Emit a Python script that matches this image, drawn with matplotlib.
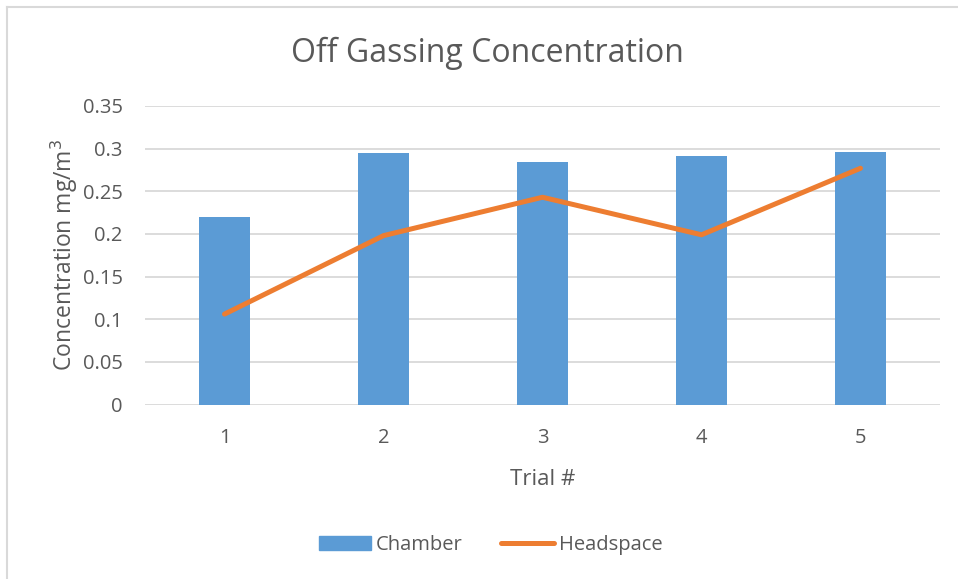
import matplotlib
matplotlib.use('Agg')
from matplotlib import pyplot as plt
from matplotlib.lines import Line2D
import numpy as np

trials = ['1', '2', '3', '4', '5']
chamber = [0.220, 0.2945, 0.284, 0.291, 0.2955]
headspace = [0.106, 0.198, 0.243, 0.199, 0.277]
yticks = [0, 0.05, 0.1, 0.15, 0.2, 0.25, 0.3, 0.35]

plt.rcParams['font.family'] = ['Open Sans', 'DejaVu Sans']
grey = '#595959'

fig = plt.figure(figsize=(9.58, 5.79), dpi=100)
ax = fig.add_axes([145 / 958, 1 - 404.5 / 579, 795 / 958, 298.5 / 579])

x = np.arange(1, len(trials) + 1)
ax.bar(x, chamber, width=0.315, color='#5B9BD5', zorder=2, label='Chamber')
ax.plot(x, headspace, color='#ED7D31', lw=3.6, solid_capstyle='round',
        solid_joinstyle='round', zorder=3, label='Headspace')

ax.set_xlim(0.5, 5.5)
ax.set_ylim(0, 0.35)
ax.set_xticks(x)
ax.set_xticklabels(trials)
ax.set_yticks(yticks)
ax.set_yticklabels(['0', '0.05', '0.1', '0.15', '0.2', '0.25', '0.3', '0.35'])
ax.yaxis.grid(True, color='#d9d9d9', lw=1.3, zorder=0)
ax.set_axisbelow(True)
for s in ax.spines.values():
    s.set_visible(False)
ax.tick_params(length=0, labelsize=14.5, colors=grey)
ax.tick_params(axis='y', pad=16)
ax.tick_params(axis='x', pad=17)

ax.set_xlabel('Trial #', fontsize=16, color=grey, labelpad=15)
ax.set_ylabel('Concentration mg/m$^3$', fontsize=16.5, color=grey, labelpad=2)
fig.text(487 / 958, 1 - 53 / 579, 'Off Gassing Concentration', ha='center', va='center',
         fontsize=23, color=grey)

handles = [
    plt.Rectangle((0, 0), 1, 1, color='#5B9BD5'),
    Line2D([0], [0], color='#ED7D31', lw=3.6, solid_capstyle='round'),
]
fig.legend(handles, ['Chamber', 'Headspace'], loc='center', ncol=2,
           bbox_to_anchor=(0.512, 1 - 545 / 579), frameon=False, fontsize=14.5,
           labelcolor=grey, handlelength=2.6, handletextpad=0.25, columnspacing=1.9)

# thin chart border along the top and left
fig.add_artist(Line2D([7 / 958, 7 / 958], [0, 1 - 7 / 579], color='#d9d9d9', lw=1.5))
fig.add_artist(Line2D([7 / 958, 1], [1 - 7 / 579, 1 - 7 / 579], color='#d9d9d9', lw=1.5))

fig.savefig('out.png', dpi=100, facecolor='white')
